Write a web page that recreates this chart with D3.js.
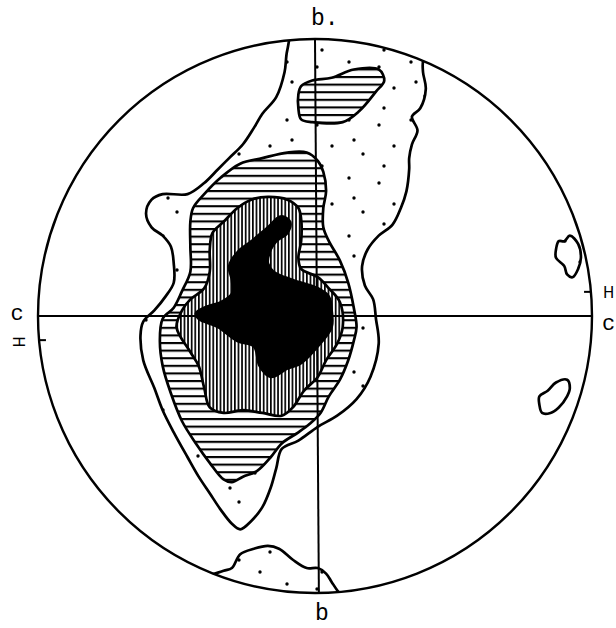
<!DOCTYPE html>
<html>
<head>
<meta charset="utf-8">
<script src="https://cdnjs.cloudflare.com/ajax/libs/d3/7.8.5/d3.min.js"></script>
<style>
  body { margin: 0; background: #fff; }
</style>
</head>
<body>
<script>
//////////////////////////// contour outlines ////////////////////////////
// points are [x, y] in net units: centre = 0, primitive circle radius = 100
// zone 1 (stippled) - main band, runs from the top of the net to lower left
var zone1Main = [
    [-7, 104], [-10, 96], [-11, 88], [-14, 79], [-19, 73], [-22, 68], [-26, 62],
    [-31, 57], [-35, 53], [-40, 48], [-46, 44], [-55, 44], [-59, 42], [-61, 37],
    [-59, 32], [-55, 29], [-52, 25], [-51, 19], [-51, 12], [-54, 7], [-58, 2],
    [-62, -2], [-63, -7], [-62, -16], [-58, -26], [-55, -34], [-51, -42], [-46, -51],
    [-42, -58], [-38, -64], [-34, -70], [-30, -75], [-27, -77], [-23, -74], [-19, -69],
    [-16, -62], [-14, -55], [-12, -48], [-6, -45], [1, -40], [8, -36], [15, -30],
    [20, -22], [23, -10], [22, -1], [21, 6], [18, 11], [17, 18], [19, 24], [23, 29],
    [28, 33], [31, 39], [33, 45], [34, 53], [34, 57], [35, 62], [37, 67], [35, 72],
    [38, 75], [40, 82], [39, 88], [39, 92], [42, 101], [20, 105]
];
// zone 1 - small patches
var zone1Bottom = [
    [-40, -95], [-33, -92], [-30, -91], [-27, -86], [-22, -84], [-17, -83], [-13, -84],
    [-8, -88], [-3, -91], [1, -91], [4, -93], [6, -96], [8, -99], [12, -104], [-15, -106]
];
var zone1RightA = [
    [90, 27], [92, 29], [95, 26], [96, 21], [95, 17], [93, 14], [91, 15],
    [90, 18], [87, 21], [87, 24], [88, 27]
];
var zone1RightB = [
    [81, -29], [84, -27], [87, -24], [91, -23], [92, -26], [91, -29], [88, -33],
    [85, -35], [82, -35], [81, -32]
];
// zone 2 (horizontal ruling)
var zone2Main = [
    [-40, 44], [-34, 50], [-27, 55], [-19, 57], [-10, 59], [-3, 59], [1, 56], [3, 52],
    [4, 45], [3, 39], [3, 32], [5, 27], [9, 20], [12, 12], [14, 3], [15, -4], [14, -9],
    [12, -16], [9, -23], [5, -29], [2, -35], [-2, -39], [-6, -42], [-12, -46], [-16, -51],
    [-21, -56], [-26, -58], [-30, -60], [-33, -59], [-38, -53], [-43, -46], [-48, -38],
    [-52, -28], [-55, -18], [-56, -9], [-55, -1], [-51, 3], [-48, 9], [-45, 16],
    [-45, 25], [-45, 34], [-44, 39]
];
var zone2Top = [
    [-5, 83], [-1, 85], [6, 86], [14, 89], [23, 89], [25, 85], [22, 81], [16, 74],
    [10, 70], [-1, 70], [-5, 71], [-6, 75], [-6, 80]
];
// zone 3 (vertical ruling)
var zone3 = [
    [-23, 42], [-17, 43], [-10, 42], [-6, 39], [-5, 35], [-5, 27], [-6, 21], [-5, 17],
    [1, 14], [5, 10], [9, 5], [10, -4], [8, -10], [4, -16], [1, -22], [-4, -27], [-8, -33],
    [-12, -36], [-19, -35], [-26, -34], [-33, -35], [-38, -33], [-40, -26], [-42, -18],
    [-45, -13], [-50, -4], [-48, 2], [-45, 6], [-40, 10], [-38, 16], [-38, 24], [-37, 30],
    [-33, 34], [-28, 39]
];
// zone 4 (solid maximum)
var zone4 = [
    [-12, 36], [-9, 34], [-10, 30], [-14, 27], [-16, 24], [-17, 19], [-15, 16], [-8, 13],
    [1, 10], [5, 7], [6, 2], [6, -4], [1, -11], [-5, -17], [-10, -19], [-16, -22],
    [-20, -18], [-22, -11], [-28, -9], [-35, -4], [-42, -1], [-43, 1], [-40, 3], [-34, 5],
    [-30, 8], [-30, 13], [-31, 18], [-28, 23], [-23, 27], [-17, 32], [-14, 35]
];
// the two reference diameters (b-b is drawn slightly off vertical)
var axisCC = [[-100, 0], [100, 0]];
var axisBB = [[0, 100], [1.4, -100]];
// H marks on the primitive circle (angle in degrees from the c axis)
var hAngles = [5, 185];

//////////////////////////// layout ////////////////////////////
var width = 616, height = 628;
var cx = 315, cy = 316, rad = 277;

var svg = d3.select("body")
    .append("svg")
    .attr("width", width)
    .attr("height", height)
    .style("background", "#fff");

var x = d3.scaleLinear().domain([-100, 100]).range([cx - rad, cx + rad]);
var y = d3.scaleLinear().domain([-100, 100]).range([cy + rad, cy - rad]);
var r = x(100) - x(0);

var defs = svg.append("defs");

defs.append("clipPath").attr("id", "net")
    .append("circle")
    .attr("cx", x(0)).attr("cy", y(0)).attr("r", r);

// stipple for zone 1
var dots = defs.append("pattern")
    .attr("id", "dots")
    .attr("patternUnits", "userSpaceOnUse")
    .attr("width", 62).attr("height", 58);
dots.append("rect").attr("width", 62).attr("height", 58).attr("fill", "#fff");
[[7, 9], [39, 4], [22, 30], [53, 38], [12, 50], [44, 24]].forEach(function (p) {
    dots.append("circle").attr("cx", p[0]).attr("cy", p[1]).attr("r", 1.7).attr("fill", "#000");
});

// horizontal ruling for zone 2
var hrule = defs.append("pattern")
    .attr("id", "hrule")
    .attr("patternUnits", "userSpaceOnUse")
    .attr("width", 8).attr("height", 7.6);
hrule.append("rect").attr("width", 8).attr("height", 7.6).attr("fill", "#fff");
hrule.append("rect").attr("y", 0).attr("width", 8).attr("height", 2.1).attr("fill", "#000");

// vertical ruling for zone 3
var vrule = defs.append("pattern")
    .attr("id", "vrule")
    .attr("patternUnits", "userSpaceOnUse")
    .attr("width", 3.6).attr("height", 8);
vrule.append("rect").attr("width", 3.6).attr("height", 8).attr("fill", "#fff");
vrule.append("rect").attr("x", 0).attr("width", 1.7).attr("height", 8).attr("fill", "#000");

var contour = d3.line()
    .x(function (d) { return x(d[0]); })
    .y(function (d) { return y(d[1]); })
    .curve(d3.curveCatmullRomClosed.alpha(0.5));

var plot = svg.append("g").attr("clip-path", "url(#net)");

var zones = [
    {pts: zone1Main, fill: "url(#dots)"},
    {pts: zone1Bottom, fill: "url(#dots)"},
    {pts: zone1RightA, fill: "url(#dots)"},
    {pts: zone1RightB, fill: "url(#dots)"},
    {pts: zone2Main, fill: "url(#hrule)"},
    {pts: zone2Top, fill: "url(#hrule)"},
    {pts: zone3, fill: "url(#vrule)"},
    {pts: zone4, fill: "#000"}
];

plot.selectAll("path.zone")
    .data(zones)
    .enter()
    .append("path")
    .attr("class", "zone")
    .attr("d", function (d) { return contour(d.pts); })
    .attr("fill", function (d) { return d.fill; })
    .attr("stroke", "#000")
    .attr("stroke-width", 2.7)
    .attr("stroke-linejoin", "round");

// diameters
var straight = d3.line()
    .x(function (d) { return x(d[0]); })
    .y(function (d) { return y(d[1]); });
[axisCC, axisBB].forEach(function (a) {
    plot.append("path")
        .attr("d", straight(a))
        .attr("fill", "none")
        .attr("stroke", "#000")
        .attr("stroke-width", 2);
});

// primitive circle
svg.append("circle")
    .attr("cx", x(0)).attr("cy", y(0)).attr("r", r)
    .attr("fill", "none")
    .attr("stroke", "#000")
    .attr("stroke-width", 2.4);

// small ticks for the H direction
hAngles.forEach(function (a) {
    var t = a * Math.PI / 180;
    svg.append("line")
        .attr("x1", x(100 * Math.cos(t))).attr("y1", y(100 * Math.sin(t)))
        .attr("x2", x(97.5 * Math.cos(t))).attr("y2", y(100 * Math.sin(t)))
        .attr("stroke", "#000").attr("stroke-width", 2);
});

// labels
var lab = svg.append("g")
    .attr("font-family", "'Liberation Mono', 'DejaVu Sans Mono', monospace")
    .attr("fill", "#000");
lab.append("text").attr("x", 311).attr("y", 25).attr("font-size", 23).text("b.");
lab.append("text").attr("x", 322).attr("y", 620).attr("font-size", 23)
    .attr("text-anchor", "middle").text("b");
lab.append("text").attr("x", 17).attr("y", 320).attr("font-size", 22)
    .attr("text-anchor", "middle").text("c");
lab.append("text").attr("x", 602).attr("y", 330).attr("font-size", 22).text("c");

var hl = svg.append("g")
    .attr("font-family", "'DejaVu Sans', sans-serif")
    .attr("font-size", 15)
    .attr("fill", "#000");
hl.append("text").attr("x", 603).attr("y", 298).text("H");
hl.append("text")
    .attr("transform", "translate(18,342) rotate(90)")
    .attr("text-anchor", "middle")
    .attr("dy", "0.35em")
    .text("H");
</script>
</body>
</html>
